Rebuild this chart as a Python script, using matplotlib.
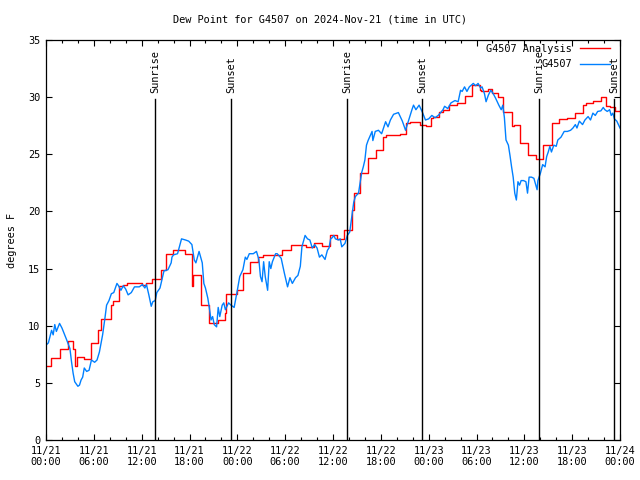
import numpy as np
import pandas as pd
import matplotlib
matplotlib.use('Agg')
import matplotlib.pyplot as plt
import matplotlib.dates as mdates

# Start of the plotted period (UTC)
inicio = pd.Timestamp('2024-11-21 00:00')

# Analysis (red, step line): hour offset from start and dew point
ana_horas = [0.0, 0.6, 1.7, 2.8, 3.4, 3.7, 3.9, 4.8, 5.7, 6.5, 6.9, 8.1, 8.4, 9.2,
             9.6, 10.1, 12.0, 12.6, 13.3, 14.4, 15.1, 15.9, 17.4, 18.3, 18.5, 19.4,
             20.5, 21.6, 22.4, 22.6, 24.0, 24.7, 25.6, 26.6, 27.2, 29.6, 30.7, 32.6,
             33.6, 34.6, 35.6, 36.5, 37.4, 38.4, 38.6, 39.4, 40.4, 41.4, 42.3, 42.7,
             44.4, 45.2, 45.6, 46.9, 47.7, 48.3, 48.5, 49.3, 49.8, 50.6, 51.5, 52.5,
             53.4, 54.4, 54.6, 55.5, 55.9, 56.7, 57.3, 58.4, 58.7, 59.4, 60.5, 61.5,
             62.3, 63.5, 64.4, 65.3, 66.4, 67.3, 67.7, 68.6, 69.6, 70.2, 70.7, 71.4,
             72.0]
ana_dewpt = [6.5, 7.2, 8.0, 8.7, 8.0, 6.5, 7.3, 7.1, 8.5, 9.6, 10.6, 11.8, 12.2, 13.5,
             13.6, 13.7, 13.6, 13.7, 14.1, 14.9, 16.3, 16.6, 16.3, 13.5, 14.4, 11.8,
             10.2, 10.5, 11.1, 12.8, 13.1, 14.6, 15.6, 16.0, 16.2, 16.6, 17.1, 16.9,
             17.2, 17.0, 17.9, 17.6, 18.4, 20.1, 21.6, 23.4, 24.7, 25.4, 26.5, 26.7,
             26.8, 27.7, 27.8, 27.6, 27.5, 28.2, 28.3, 28.7, 28.9, 29.3, 29.5, 30.1,
             31.1, 30.6, 30.5, 30.7, 30.4, 30.0, 28.7, 27.5, 27.6, 26.0, 24.9, 24.6,
             25.8, 27.7, 28.1, 28.2, 28.6, 29.3, 29.5, 29.7, 30.0, 29.2, 29.1, 28.8,
             28.8]

# Station observations (blue)
obs_horas = [0.0, 0.3, 0.7, 0.9, 1.1, 1.3, 1.7, 2.0, 2.6, 3.0, 3.2, 3.4, 3.6, 4.0,
             4.2, 4.4, 4.6, 4.8, 5.1, 5.4, 5.7, 6.1, 6.4, 6.7, 7.1, 7.4, 7.6, 7.9,
             8.2, 8.5, 8.9, 9.1, 9.4, 9.7, 10.0, 10.3, 10.7, 11.1, 11.7, 12.1, 12.4,
             12.6, 12.9, 13.2, 13.4, 13.7, 13.9, 14.3, 14.6, 14.8, 15.3, 15.5, 15.7,
             15.8, 16.0, 16.5, 17.0, 17.5, 17.9, 18.3, 18.6, 18.8, 19.0, 19.2, 19.4,
             19.6, 19.8, 20.0, 20.3, 20.5, 20.7, 20.9, 21.1, 21.4, 21.6, 21.8, 22.1,
             22.3, 22.5, 22.9, 23.2, 23.6, 24.0, 24.3, 24.7, 25.0, 25.2, 25.5, 26.0,
             26.4, 26.7, 26.9, 27.1, 27.3, 27.5, 27.8, 28.0, 28.2, 28.4, 28.8, 29.0,
             29.5, 29.9, 30.3, 30.6, 30.9, 31.3, 31.6, 31.9, 32.1, 32.5, 32.8, 33.1,
             33.4, 33.7, 34.0, 34.3, 34.6, 35.0, 35.3, 35.5, 35.7, 35.9, 36.1, 36.3,
             36.7, 36.9, 37.1, 37.5, 37.8, 38.1, 38.3, 38.6, 38.8, 39.2, 39.6, 39.8,
             40.0, 40.2, 40.4, 40.9, 41.0, 41.3, 41.7, 42.1, 42.6, 42.9, 43.2, 43.6,
             44.2, 44.7, 45.1, 45.5, 45.9, 46.1, 46.4, 46.8, 47.2, 47.6, 48.0, 48.4,
             48.8, 49.2, 49.8, 50.0, 50.4, 50.8, 51.3, 51.7, 52.0, 52.2, 52.5, 52.8,
             53.1, 53.6, 53.9, 54.2, 54.5, 54.7, 55.0, 55.2, 55.5, 55.8, 56.1, 56.4,
             56.8, 57.1, 57.3, 57.5, 57.7, 58.0, 58.2, 58.4, 58.6, 58.8, 59.0, 59.2,
             59.4, 59.6, 59.9, 60.2, 60.4, 60.6, 60.9, 61.2, 61.4, 61.6, 61.7, 62.0,
             62.3, 62.6, 62.8, 63.0, 63.2, 63.4, 63.7, 64.0, 64.2, 64.6, 65.0, 65.4,
             65.8, 66.1, 66.4, 66.6, 66.9, 67.3, 67.6, 68.0, 68.3, 68.6, 68.9, 69.2,
             69.6, 69.9, 70.1, 70.4, 70.7, 70.9, 71.1, 71.3, 71.6, 72.0]
obs_dewpt = [8.3, 8.5, 9.6, 9.2, 10.1, 9.5, 10.2, 9.8, 8.75, 8.0, 6.85, 5.85, 5.1, 4.7,
             4.8, 5.25, 5.5, 6.3, 6.0, 6.1, 7.0, 6.8, 7.0, 7.7, 9.2, 10.7, 11.8, 12.2,
             12.8, 12.9, 13.7, 13.5, 13.1, 13.5, 13.2, 12.7, 12.9, 13.4, 13.4, 13.6, 13.3,
             13.6, 12.7, 11.7, 12.1, 12.2, 12.9, 13.3, 14.2, 14.8, 14.9, 15.2, 15.5,
             16.0, 16.2, 16.3, 17.6, 17.5, 17.4, 17.1, 15.75, 15.5, 16.0, 16.5, 16.0,
             15.5, 13.7, 13.3, 12.4, 11.5, 10.5, 10.8, 10.1, 9.9, 11.6, 10.8, 11.8,
             12.0, 11.4, 12.0, 11.8, 11.6, 13.1, 14.3, 14.9, 16.0, 15.8, 16.3, 16.3,
             16.5, 15.8, 14.3, 13.85, 15.6, 14.3, 13.1, 15.6, 15.0, 15.6, 16.3, 16.3,
             15.9, 14.6, 13.4, 14.2, 13.7, 14.2, 14.4, 15.2, 16.9, 17.9, 17.6, 17.5,
             16.8, 17.1, 16.8, 16.0, 16.2, 15.8, 16.6, 16.8, 17.6, 17.7, 17.9, 17.6,
             17.5, 17.6, 16.9, 17.2, 17.9, 18.2, 19.25, 20.8, 21.3, 21.6, 23.4, 23.9,
             24.5, 25.8, 26.2, 27.0, 26.2, 27.0, 27.1, 26.8, 27.85, 27.4, 28.0, 28.5,
             28.65, 27.9, 27.1, 28.0, 28.9, 29.3, 28.9, 29.3, 28.7, 28.0, 28.1, 28.4,
             28.2, 28.4, 28.9, 29.2, 29.0, 29.5, 29.7, 29.6, 30.6, 30.5, 30.9, 30.5,
             30.9, 31.2, 31.0, 31.2, 30.8, 30.9, 30.3, 29.6, 30.2, 30.6, 30.3, 29.9,
             29.3, 28.9, 29.3, 28.2, 26.25, 25.8, 24.9, 23.9, 23.0, 21.6, 21.0, 22.6,
             22.3, 22.7, 22.7, 22.6, 21.6, 23.0, 23.0, 22.9, 22.4, 21.9, 22.7, 23.3,
             24.1, 23.9, 24.8, 25.2, 25.7, 25.2, 25.8, 25.7, 26.25, 26.5, 27.0, 27.0,
             27.1, 27.3, 27.6, 27.3, 27.9, 27.6, 28.0, 28.3, 28.0, 28.6, 28.4, 28.75,
             28.8, 29.1, 28.9, 28.75, 28.9, 28.4, 28.6, 28.1, 27.9, 27.3]

# Sunrise / sunset markers
eventos = ['Sunrise', 'Sunset', 'Sunrise', 'Sunset', 'Sunrise', 'Sunset']
eventos_hora = ['2024-11-21 13:43', '2024-11-21 23:15', '2024-11-22 13:48',
                '2024-11-22 23:12', '2024-11-23 13:53', '2024-11-23 23:17']

titulo = 'Dew Point for G4507 on 2024-Nov-21 (time in UTC)'

# gnuplot-like look
plt.rcParams['font.family'] = ['DejaVu Sans Mono']
plt.rcParams['font.size'] = 7.4

t_ana = inicio + pd.to_timedelta(ana_horas, unit='h')
t_obs = inicio + pd.to_timedelta(obs_horas, unit='h')

fig = plt.figure(figsize=(6.4, 4.8), dpi=100)
ax = fig.add_axes([46 / 640, 40 / 480, 574 / 640, 400 / 480])

ax.plot(t_ana, ana_dewpt, color='#ff0000', lw=1.0, drawstyle='steps-post',
        label='G4507 Analysis')
ax.plot(t_obs, obs_dewpt, color='#0080ff', lw=1.0, label='G4507')

# vertical lines with rotated labels
for nombre, hora in zip(eventos, eventos_hora):
    t = pd.Timestamp(hora)
    ax.plot([t, t], [0, 29.8], color='black', lw=1.0)
    ax.text(t, 30.4, nombre, rotation=90, ha='center', va='bottom')

ax.set_xlim(inicio, inicio + pd.Timedelta(hours=72))
ax.set_ylim(0, 35)
ax.set_yticks(np.arange(0, 36, 5))
ax.xaxis.set_major_locator(mdates.HourLocator(byhour=[0, 6, 12, 18]))
ax.xaxis.set_minor_locator(mdates.HourLocator(interval=2))
ax.xaxis.set_major_formatter(mdates.DateFormatter('%m/%d\n%H:%M'))

ax.tick_params(which='both', direction='in', top=True, right=True, width=0.8)
ax.tick_params(which='major', length=4, pad=4)
ax.tick_params(which='minor', length=2.2)
for s in ax.spines.values():
    s.set_linewidth(0.9)

ax.set_ylabel('degrees F', labelpad=8)
fig.text(0.5, 1 - 20 / 480, titulo, ha='center', va='center')

ax.legend(loc='upper right', bbox_to_anchor=(1 - 10 / 574, 1 - 4 / 400),
          frameon=False, markerfirst=False, borderaxespad=0, borderpad=0,
          handlelength=2.9, handletextpad=0.8, labelspacing=0.5)

plt.savefig('out.png', dpi=100)
